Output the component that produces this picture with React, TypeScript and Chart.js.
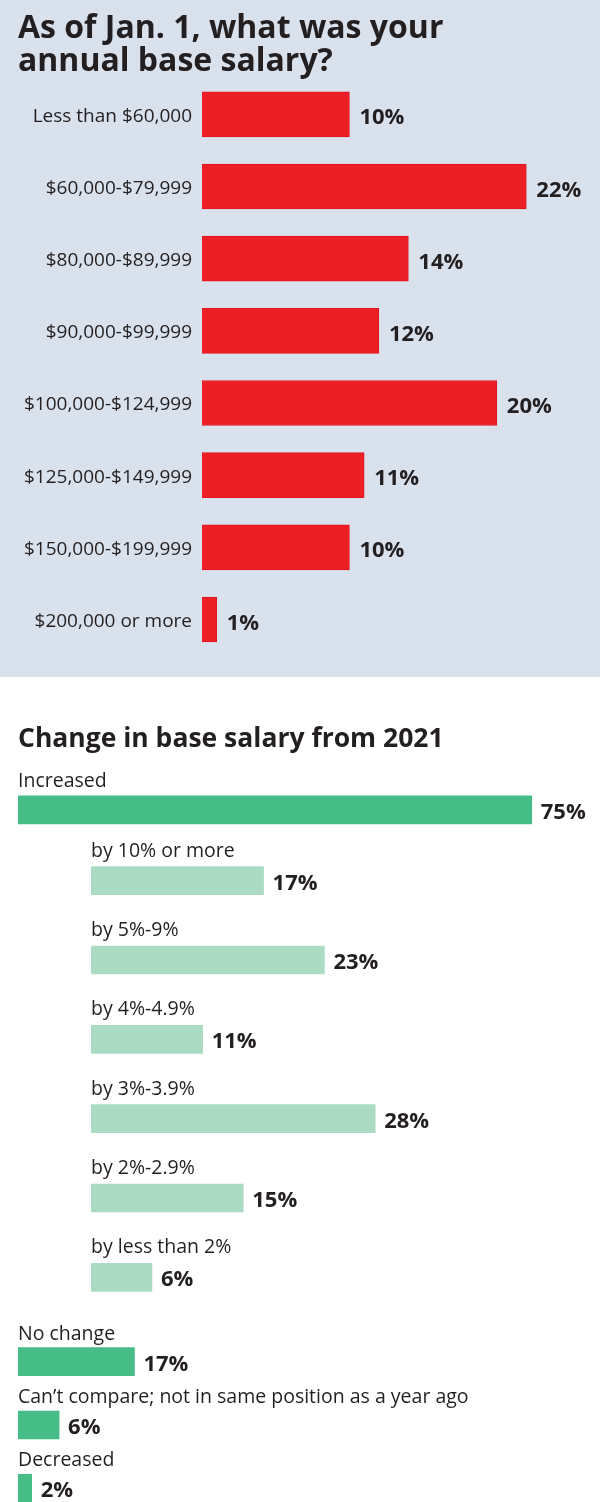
import React, { useEffect, useRef } from "react";
import { Chart, registerables } from "chart.js";

Chart.register(...registerables);

// ---- Data ----------------------------------------------------------------
const salaryLabels = [
  "Less than $60,000",
  "$60,000-$79,999",
  "$80,000-$89,999",
  "$90,000-$99,999",
  "$100,000-$124,999",
  "$125,000-$149,999",
  "$150,000-$199,999",
  "$200,000 or more",
];
const salaryShares = [10, 22, 14, 12, 20, 11, 10, 1];

const increasedLabels = ["Increased"];
const increasedShares = [75];

const raiseLabels = [
  "by 10% or more",
  "by 5%-9%",
  "by 4%-4.9%",
  "by 3%-3.9%",
  "by 2%-2.9%",
  "by less than 2%",
];
const raiseShares = [17, 23, 11, 28, 15, 6];

const otherLabels = [
  "No change",
  "Can\u2019t compare; not in same position as a year ago",
  "Decreased",
];
const otherShares = [17, 6, 2];

const salaryTitle = ["As of Jan. 1, what was your", "annual base salary?"];
const changeTitle = "Change in base salary from 2021";

// ---- Styling ---------------------------------------------------------------
const FONT = "'Open Sans', 'Noto Sans', sans-serif";
const INK = "#231f20";
const RED = "#ec1f27";
const GREEN = "#46bd87";
const LIGHT_GREEN = "#acdbc4";
const PANEL_BG = "#d9e1ec";

type LabelOpts = {
  valueSize: number;
  valueGap: number;
  valueDy: number;
  above?: { labels: string[]; size: number; gap: number };
};

// Draws "NN%" after each bar, and optionally the category name above it.
function barTextPlugin(o: LabelOpts) {
  return {
    id: "barText",
    afterDatasetsDraw(chart: any) {
      const ctx = chart.ctx;
      const meta = chart.getDatasetMeta(0);
      const values = chart.data.datasets[0].data as number[];
      ctx.save();
      ctx.fillStyle = INK;
      ctx.textAlign = "left";
      ctx.textBaseline = "alphabetic";
      meta.data.forEach((bar: any, i: number) => {
        const p = bar.getProps(["x", "y", "base", "height"], true);
        ctx.font = `bold ${o.valueSize}px ${FONT}`;
        ctx.fillText(`${values[i]}%`, p.x + o.valueGap, p.y + o.valueDy);
        if (o.above) {
          ctx.font = `${o.above.size}px ${FONT}`;
          ctx.fillText(o.above.labels[i], p.base, p.y - p.height / 2 - o.above.gap);
        }
      });
      ctx.restore();
    },
  };
}

const hidden = { display: false, grid: { display: false }, border: { display: false } };

function baseOptions() {
  return {
    indexAxis: "y" as const,
    animation: false as const,
    responsive: false,
    devicePixelRatio: 1,
    events: [] as any[],
  };
}

export default function App() {
  const topRef = useRef<HTMLCanvasElement>(null);
  const incRef = useRef<HTMLCanvasElement>(null);
  const raiseRef = useRef<HTMLCanvasElement>(null);
  const otherRef = useRef<HTMLCanvasElement>(null);

  useEffect(() => {
    const charts: Chart[] = [];

    // Salary bands
    charts.push(
      new Chart(topRef.current!, {
        type: "bar",
        data: {
          labels: salaryLabels,
          datasets: [
            {
              data: salaryShares,
              backgroundColor: RED,
              borderColor: "#e3141d",
              borderWidth: 1,
              barThickness: 45,
            },
          ],
        },
        options: {
          ...baseOptions(),
          layout: { padding: { left: 18, right: 0, top: 0, bottom: 21 } },
          plugins: {
            legend: { display: false },
            tooltip: { enabled: false },
            title: {
              display: true,
              text: salaryTitle,
              align: "start",
              color: INK,
              font: { family: FONT, size: 32, weight: "bold", lineHeight: 1.02 },
              padding: { top: 13, bottom: 0 },
            },
          },
          scales: {
            x: { ...hidden, min: 0, max: 27 },
            y: {
              afterFit: (s: any) => {
                s.width = 184;
              },
              grid: { display: false, drawTicks: false },
              border: { display: false },
              ticks: {
                padding: 10,
                labelOffset: 2,
                color: INK,
                font: { family: FONT, size: 19 },
              },
            },
          },
        } as any,
        plugins: [barTextPlugin({ valueSize: 22, valueGap: 10, valueDy: 10 })],
      })
    );

    // Increased (overall)
    charts.push(
      new Chart(incRef.current!, {
        type: "bar",
        data: {
          labels: increasedLabels,
          datasets: [{ data: increasedShares, backgroundColor: GREEN, barThickness: 28 }],
        },
        options: {
          ...baseOptions(),
          layout: { padding: { left: 18, right: 34, top: 0, bottom: 0 } },
          plugins: {
            legend: { display: false },
            tooltip: { enabled: false },
            title: {
              display: true,
              text: changeTitle,
              align: "start",
              color: INK,
              font: { family: FONT, size: 26.5, weight: "bold", lineHeight: 1.2 },
              padding: { top: 47, bottom: 23 },
            },
          },
          scales: { x: { ...hidden, min: 0, max: 80 }, y: { ...hidden } },
        } as any,
        plugins: [
          barTextPlugin({
            valueSize: 22,
            valueGap: 9,
            valueDy: 9,
            above: { labels: increasedLabels, size: 19.5, gap: 9 },
          }),
        ],
      })
    );

    // Size of the raise
    charts.push(
      new Chart(raiseRef.current!, {
        type: "bar",
        data: {
          labels: raiseLabels,
          datasets: [{ data: raiseShares, backgroundColor: LIGHT_GREEN, barThickness: 28 }],
        },
        options: {
          ...baseOptions(),
          layout: { padding: { left: 91, right: 103, top: 0, bottom: 0 } },
          plugins: { legend: { display: false }, tooltip: { enabled: false } },
          scales: { x: { ...hidden, min: 0, max: 40 }, y: { ...hidden } },
        } as any,
        plugins: [
          barTextPlugin({
            valueSize: 22,
            valueGap: 9,
            valueDy: 9,
            above: { labels: raiseLabels, size: 19.5, gap: 10 },
          }),
        ],
      })
    );

    // No change / can't compare / decreased
    charts.push(
      new Chart(otherRef.current!, {
        type: "bar",
        data: {
          labels: otherLabels,
          datasets: [{ data: otherShares, backgroundColor: GREEN, barThickness: 28 }],
        },
        options: {
          ...baseOptions(),
          layout: { padding: { left: 18, right: 34, top: 13, bottom: 0 } },
          plugins: { legend: { display: false }, tooltip: { enabled: false } },
          scales: { x: { ...hidden, min: 0, max: 80 }, y: { ...hidden } },
        } as any,
        plugins: [
          barTextPlugin({
            valueSize: 22,
            valueGap: 9,
            valueDy: 9,
            above: { labels: otherLabels, size: 19.5, gap: 8 },
          }),
        ],
      })
    );

    return () => charts.forEach((c) => c.destroy());
  }, []);

  const abs = (top: number): React.CSSProperties => ({
    position: "absolute",
    left: 0,
    top,
    display: "block",
  });

  return (
    <div
      style={{
        position: "absolute",
        left: 0,
        top: 0,
        width: 600,
        height: 1502,
        overflow: "hidden",
        background: "#ffffff",
      }}
    >
      <div style={{ ...abs(0), width: 600, height: 677, background: PANEL_BG }} />
      <canvas ref={topRef} width={600} height={677} style={abs(0)} />
      <canvas ref={incRef} width={600} height={164} style={abs(677)} />
      <canvas ref={raiseRef} width={600} height={476} style={abs(841)} />
      <canvas ref={otherRef} width={600} height={203} style={abs(1317)} />
    </div>
  );
}
